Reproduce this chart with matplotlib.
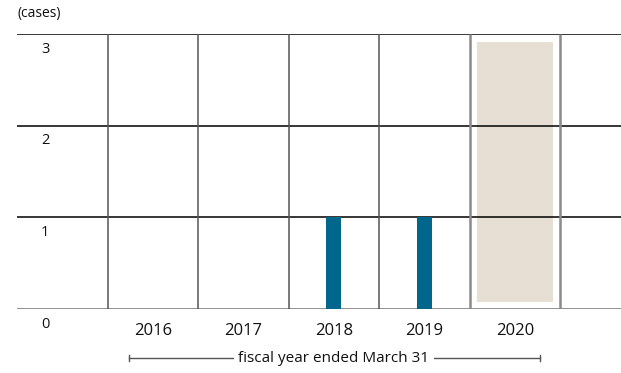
import matplotlib.pyplot as plt

years = ["2016", "2017", "2018", "2019", "2020"]
cases = [0, 0, 1, 1, 0]
highlight_year = "2020"
y_ticks = [0, 1, 2, 3]

plt.rcParams["font.family"] = ["Open Sans", "DejaVu Sans"]

fig = plt.figure(figsize=(6.21, 3.73), dpi=100)
W, H = 621, 373
ax = fig.add_axes([17 / W, 1 - 309 / H, (621 - 17) / W, (309 - 34) / H])
ax.set_xlim(-1.5, 5.17)
ax.set_ylim(0, 3)
ax.axis("off")

x = list(range(len(years)))

# highlight box for the latest year
hi = years.index(highlight_year)
ax.bar(hi, 2.83, bottom=0.08, width=0.84, color="#e8dfd4", zorder=1)

ax.bar(x, cases, width=0.165, color="#00668c", zorder=3)

# grid
for v in y_ticks[1:]:
    ax.axhline(v, color="black", lw=1.1, zorder=2)
ax.axhline(0, color="#888888", lw=1.3, zorder=2)
for b in [i - 0.5 for i in range(len(years) + 1)]:
    edge = b in (hi - 0.5, hi + 0.5)
    ax.plot([b, b], [0, 3], color="#8a8a8a" if edge else "#555555",
            lw=1.8 if edge else 1.1, zorder=2, solid_capstyle="butt")

for v in y_ticks:
    ax.annotate(str(v), (-1.19, v), xytext=(0, -11), textcoords="offset points",
                ha="center", va="center", fontsize=10.5, color="#111111")

for xi, yr in zip(x, years):
    ax.annotate(yr, (xi, 0), xytext=(0, -15.5), textcoords="offset points",
                ha="center", va="center", fontsize=12, color="#111111")

fig.text(17 / W, 1 - 13 / H, "(cases)", ha="left", va="center", fontsize=10, color="#111111")

# x axis caption with bracket line
ly = 1 - 358 / H
fig.add_artist(plt.Line2D([129 / W, 540 / W], [ly, ly], color="#555555", lw=1))
for xe in (129 / W, 540 / W):
    fig.add_artist(plt.Line2D([xe, xe], [ly - 3 / H, ly + 3 / H], color="#555555", lw=1))
fig.text(334 / W, ly, "fiscal year ended March 31", ha="center", va="center",
         fontsize=11, color="#111111",
         bbox=dict(facecolor="white", edgecolor="none", pad=3))

fig.savefig("out.png", dpi=100)
